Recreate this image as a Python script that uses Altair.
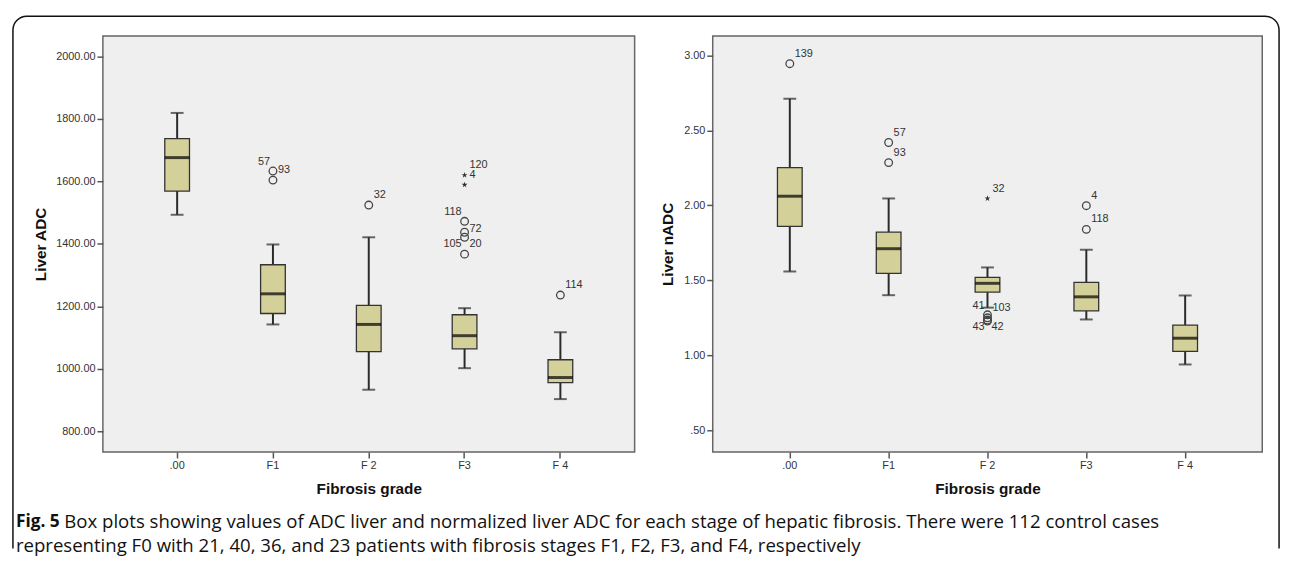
import altair as alt
import pandas as pd

# ---------------- data ----------------
cats = [".00", "F1", "F 2", "F3", "F 4"]

adc_lo = [1493, 1142, 933, 1002, 903]
adc_q1 = [1569, 1177, 1055, 1064, 956]
adc_med = [1676, 1240, 1142, 1106, 972]
adc_q3 = [1737, 1333, 1203, 1173, 1029]
adc_hi = [1819, 1398, 1421, 1194, 1117]

adc_out_cat = ["F1", "F1", "F 2", "F3", "F3", "F3", "F3", "F3", "F3", "F 4"]
adc_out_val = [1633, 1604, 1524, 1620, 1589, 1472, 1437, 1421, 1367, 1236]
adc_out_lab = ["57", "93", "32", "120", "4", "118", "72", "105", "20", "114"]
adc_out_kind = ["o", "o", "o", "*", "*", "o", "o", "o", "o", "o"]
adc_out_side = ["ul", "ur", "ur", "ur", "ur", "ul", "r", "ll", "ur", "ur"]

nadc_lo = [1.559, 1.401, 1.318, 1.239, 0.939]
nadc_q1 = [1.860, 1.546, 1.421, 1.296, 1.026]
nadc_med = [2.061, 1.711, 1.480, 1.390, 1.114]
nadc_q3 = [2.252, 1.822, 1.520, 1.487, 1.202]
nadc_hi = [2.711, 2.046, 1.586, 1.704, 1.399]

nadc_out_cat = [".00", "F1", "F1", "F 2", "F 2", "F 2", "F 2", "F 2", "F3", "F3"]
nadc_out_val = [2.945, 2.419, 2.285, 2.046, 1.270, 1.250, 1.235, 1.228, 1.998, 1.840]
nadc_out_lab = ["139", "57", "93", "32", "41", "103", "43", "42", "4", "118"]
nadc_out_kind = ["o", "o", "o", "*", "o", "o", "o", "o", "o", "o"]
nadc_out_side = ["ur", "ur", "ur", "ur", "ul", "ur", "ll", "lr", "ur", "ur"]

adc_ticks = [800, 1000, 1200, 1400, 1600, 1800, 2000]
nadc_ticks = [0.5, 1.0, 1.5, 2.0, 2.5, 3.0]

caption_bold = "Fig. 5"
caption_line1 = ("Box plots showing values of ADC liver and normalized liver ADC for each stage "
                 "of hepatic fibrosis. There were 112 control cases")
caption_line2 = ("representing F0 with 21, 40, 36, and 23 patients with fibrosis stages F1, F2, "
                 "F3, and F4, respectively")

# ---------------- style ----------------
BOX_FILL = "#d4d09a"
DARK = "#2a2a2a"
LABEL_FONT = "Liberation Sans"
CAP_FONT = "Open Sans"
CAP_SIZE = 18.8
CAP_BOLD_SIZE = 17.5
TITLE_SIZE = 15.5
H = 421
STAR = ("M0,-1L0.2245,-0.309L0.9511,-0.309L0.3633,0.118L0.5878,0.809L0,0.382"
        "L-0.5878,0.809L-0.3633,0.118L-0.9511,-0.309L-0.2245,-0.309Z")
SIDES = {
    "ur": dict(dx=5, dy=-10, align="left"),
    "ul": dict(dx=-3, dy=-9, align="right"),
    "r": dict(dx=5, dy=-3, align="left"),
    "ll": dict(dx=-3, dy=7, align="right"),
    "lr": dict(dx=4, dy=6, align="left"),
}


def panel(lo, q1, med, q3, hi, oc, ov, ol, ok, os_, domain, ticks, ytitle,
          width, pad_outer, title_x, extra=None):
    box = pd.DataFrame({"cat": cats, "lo": lo, "q1": q1, "med": med, "q3": q3, "hi": hi})
    out = pd.DataFrame({"cat": oc, "v": ov, "lab": ol, "kind": ok, "side": os_})

    label_expr = ("datum.value < 1 ? '.' + substring(format(datum.value, '.2f'), 2) "
                  ": format(datum.value, '.2f')")
    x = alt.X("cat:N", sort=cats,
              scale=alt.Scale(type="band", domain=cats, paddingInner=0, paddingOuter=pad_outer),
              axis=alt.Axis(title="Fibrosis grade", labelAngle=0, domain=False,
                            tickSize=6, tickWidth=1.5, tickColor="#555",
                            labelFont=LABEL_FONT, labelFontSize=11, labelColor="#333",
                            labelPadding=2,
                            titleFont=LABEL_FONT, titleFontSize=TITLE_SIZE,
                            titleFontWeight="bold",
                            titleColor="#111", titleX=width / 2, titleY=37,
                            titleBaseline="middle"))
    yscale = alt.Scale(domain=domain, nice=False, zero=False)
    yaxis = alt.Axis(title=ytitle, values=ticks, labelExpr=label_expr, grid=False,
                     domain=False, tickSize=6, tickWidth=1.5, tickColor="#555",
                     labelFont=LABEL_FONT, labelFontSize=11, labelColor="#333",
                     labelPadding=2,
                     titleFont=LABEL_FONT, titleFontSize=TITLE_SIZE, titleFontWeight="bold",
                     titleColor="#111", titleX=title_x, titleY=H / 2,
                     titleBaseline="middle")

    def Y(field):
        return alt.Y(f"{field}:Q", scale=yscale, axis=yaxis)

    b = alt.Chart(box)
    whisk = b.mark_rule(color=DARK, strokeWidth=2).encode(x=x, y=Y("lo"), y2="hi:Q")
    cap_lo = b.mark_tick(color=DARK, size=13, thickness=2).encode(x=x, y=Y("lo"))
    cap_hi = b.mark_tick(color=DARK, size=13, thickness=2).encode(x=x, y=Y("hi"))
    rect = b.mark_bar(size=25, fill=BOX_FILL, stroke="#333", strokeWidth=1.3).encode(
        x=x, y=Y("q1"), y2="q3:Q")
    medl = b.mark_tick(color="#000", size=25, thickness=3).encode(x=x, y=Y("med"))

    o = alt.Chart(out)
    circ = o.transform_filter("datum.kind == 'o'").mark_point(
        shape="circle", filled=False, size=60, color="#444", strokeWidth=1.3, opacity=1
    ).encode(x=x, y=Y("v"))
    star = o.transform_filter("datum.kind == '*'").mark_point(
        shape=STAR, filled=True, size=40, color="#333", opacity=1
    ).encode(x=x, y=Y("v"))

    layers = [whisk, cap_lo, cap_hi, rect, medl, circ, star]
    for side, st in SIDES.items():
        layers.append(
            o.transform_filter(f"datum.side == '{side}'").mark_text(
                font=LABEL_FONT, fontSize=11, color="#333", baseline="middle", **st
            ).encode(x=x, y=Y("v"), text="lab:N")
        )
    if extra:
        layers.extend(extra)
    return alt.layer(*layers).properties(width=width, height=H)


# decoration for the figure frame and caption (attached to the left panel)
one = alt.Data(values=[{"k": 1}])
frame = alt.Chart(one).mark_rect(
    fill="white", fillOpacity=0, stroke="#111", strokeWidth=1.5,
    cornerRadiusTopLeft=14, cornerRadiusTopRight=14
).encode(x=alt.value(-91), x2=alt.value(1190), y=alt.value(-20), y2=alt.value(520))
cover = alt.Chart(one).mark_rule(color="white", strokeWidth=3).encode(
    x=alt.value(-93), x2=alt.value(1192), y=alt.value(520))
cap_b = alt.Chart(one).mark_text(
    font=CAP_FONT, fontSize=CAP_BOLD_SIZE, fontWeight="bold", align="left",
    baseline="middle", color="#111"
).encode(x=alt.value(-88), y=alt.value(492), text=alt.value(caption_bold))
cap_1 = alt.Chart(one).mark_text(
    font=CAP_FONT, fontSize=CAP_SIZE, align="left", baseline="middle",
    color="#111").encode(x=alt.value(-39), y=alt.value(492), text=alt.value(caption_line1))
cap_2 = alt.Chart(one).mark_text(
    font=CAP_FONT, fontSize=CAP_SIZE, align="left", baseline="middle",
    color="#111").encode(x=alt.value(-88), y=alt.value(516), text=alt.value(caption_line2))

left = panel(adc_lo, adc_q1, adc_med, adc_q3, adc_hi,
             adc_out_cat, adc_out_val, adc_out_lab, adc_out_kind, adc_out_side,
             [733.6, 2065.5], adc_ticks, "Liver ADC", 538, 0.275, -63,
             extra=[frame, cover, cap_b, cap_1, cap_2])
right = panel(nadc_lo, nadc_q1, nadc_med, nadc_q3, nadc_hi,
              nadc_out_cat, nadc_out_val, nadc_out_lab, nadc_out_kind, nadc_out_side,
              [0.355, 3.130], nadc_ticks, "Liver nADC", 556, 0.28, -46)

chart = alt.hconcat(left, right, spacing=79, bounds="flush").properties(
    padding={"left": 0, "top": 3, "right": 0, "bottom": 0}
).configure(background="white").configure_view(
    fill="#efefef", stroke="#666", strokeWidth=1.5)

chart.save("out.html", embed_options={"renderer": "svg", "actions": False})
